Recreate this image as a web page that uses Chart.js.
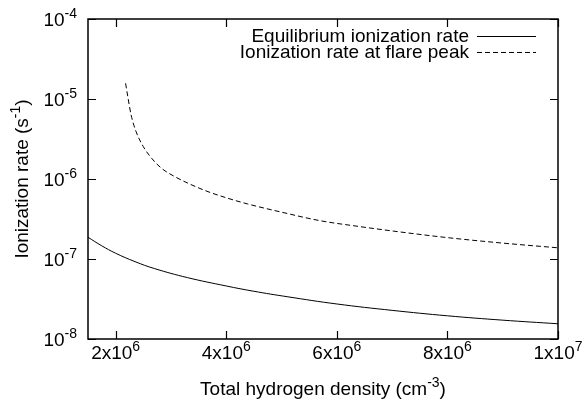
<!DOCTYPE html>
<html>
<head>
<meta charset="utf-8">
<script src="https://cdn.jsdelivr.net/npm/chart.js@4"></script>
<style>
  html, body { margin: 0; padding: 0; background: #fff; }
  canvas { display: block; }
</style>
</head>
<body>
<canvas id="chart" width="584" height="401"></canvas>
<script>
// values
// total hydrogen density (cm^-3) vs ionization rate (s^-1)
const densityEquilibrium = [1.5e6, 1.75e6, 2e6, 2.35e6, 2.7e6, 3.3e6, 4e6, 4.5e6, 5.1e6, 6e6, 7e6, 8e6, 9e6, 1e7];
const rateEquilibrium = [1.87e-7, 1.46e-7, 1.18e-7, 9.27e-8, 7.6e-8, 5.85e-8, 4.6e-8, 3.95e-8, 3.38e-8, 2.74e-8, 2.28e-8, 1.95e-8, 1.72e-8, 1.55e-8];

const densityFlare = [2.18e6, 2.22e6, 2.28e6, 2.37e6, 2.5e6, 2.65e6, 2.83e6, 3.07e6, 3.31e6, 3.67e6, 4.03e6, 4.39e6, 5e6, 5.7e6, 6.4e6, 7.14e6, 8e6, 9e6, 1e7];
const rateFlare = [1.57e-5, 1.07e-5, 6.3e-6, 3.9e-6, 2.54e-6, 1.82e-6, 1.36e-6, 1.07e-6, 8.84e-7, 6.95e-7, 5.74e-7, 4.87e-7, 3.85e-7, 3.01e-7, 2.55e-7, 2.18e-7, 1.85e-7, 1.58e-7, 1.38e-7];

const seriesLabels = ['Equilibrium ionization rate', 'Ionization rate at flare peak'];

const xTicks = [2e6, 4e6, 6e6, 8e6, 1e7];
const xTickLabels = ['2x10^{6}', '4x10^{6}', '6x10^{6}', '8x10^{6}', '1x10^{7}'];
const yTicks = [1e-8, 1e-7, 1e-6, 1e-5, 1e-4];
const yTickLabels = ['10^{-8}', '10^{-7}', '10^{-6}', '10^{-5}', '10^{-4}'];

const xTitle = 'Total hydrogen density (cm^{-3})';
const yTitle = 'Ionization rate (s^{-1})';

const FONT = "'Liberation Sans', Arial, Helvetica, sans-serif";
const mainFont = '19px ' + FONT;
const supFont = '14px ' + FONT;

// split "abc^{de}f" into normal / superscript pieces
function parseRich(str) {
  const parts = [];
  const re = /\^\{([^}]*)\}/g;
  let last = 0, m;
  while ((m = re.exec(str)) !== null) {
    if (m.index > last) parts.push({ t: str.slice(last, m.index), sup: false });
    parts.push({ t: m[1], sup: true });
    last = re.lastIndex;
  }
  if (last < str.length) parts.push({ t: str.slice(last), sup: false });
  return parts;
}

function richWidth(ctx, parts) {
  let w = 0;
  parts.forEach(p => {
    ctx.font = p.sup ? supFont : mainFont;
    w += ctx.measureText(p.t).width;
  });
  return w;
}

// y is the baseline of the normal text
function drawRich(ctx, str, x, y, align) {
  const parts = parseRich(str);
  const w = richWidth(ctx, parts);
  let cx = x;
  if (align === 'center') cx = x - w / 2;
  else if (align === 'right') cx = x - w;
  ctx.textAlign = 'left';
  ctx.textBaseline = 'alphabetic';
  parts.forEach(p => {
    ctx.font = p.sup ? supFont : mainFont;
    ctx.fillText(p.t, cx, p.sup ? y - 8 : y);
    cx += ctx.measureText(p.t).width;
  });
}

// gnuplot style frame: border, inward ticks on all sides, labels, key
const framePlugin = {
  id: 'frame',
  afterDraw(chart) {
    const ctx = chart.ctx;
    const a = chart.chartArea;
    const xs = chart.scales.x;
    const ys = chart.scales.y;
    const tick = 8;

    ctx.save();
    ctx.strokeStyle = '#000';
    ctx.fillStyle = '#000';
    ctx.lineWidth = 1.2;

    ctx.beginPath();
    xTicks.forEach(v => {
      const px = Math.round(xs.getPixelForValue(v)) + 0.5;
      ctx.moveTo(px, a.bottom); ctx.lineTo(px, a.bottom - tick);
      ctx.moveTo(px, a.top); ctx.lineTo(px, a.top + tick);
    });
    yTicks.forEach(v => {
      const py = Math.round(ys.getPixelForValue(v)) + 0.5;
      ctx.moveTo(a.left, py); ctx.lineTo(a.left + tick, py);
      ctx.moveTo(a.right, py); ctx.lineTo(a.right - tick, py);
    });
    ctx.stroke();

    ctx.lineWidth = 1.5;
    ctx.strokeRect(a.left, a.top, a.right - a.left, a.bottom - a.top);

    // tick labels
    xTicks.forEach((v, i) => {
      drawRich(ctx, xTickLabels[i], xs.getPixelForValue(v), a.bottom + 20, 'center');
    });
    yTicks.forEach((v, i) => {
      drawRich(ctx, yTickLabels[i], a.left - 11, ys.getPixelForValue(v) + 7, 'right');
    });

    // axis titles
    drawRich(ctx, xTitle, (a.left + a.right) / 2, 395, 'center');
    ctx.save();
    ctx.translate(28, (a.top + a.bottom) / 2);
    ctx.rotate(-Math.PI / 2);
    drawRich(ctx, yTitle, 0, 0, 'center');
    ctx.restore();

    // key, top right
    chart.data.datasets.forEach((ds, i) => {
      const ly = 36 + i * 15.5;
      drawRich(ctx, ds.label, 469, ly + 6, 'right');
      ctx.beginPath();
      ctx.lineWidth = 1;
      ctx.setLineDash(ds.borderDash || []);
      ctx.moveTo(477, Math.round(ly) + 0.5);
      ctx.lineTo(536, Math.round(ly) + 0.5);
      ctx.stroke();
      ctx.setLineDash([]);
    });

    ctx.restore();
  }
};

const canvas = document.getElementById('chart');
new Chart(canvas.getContext('2d'), {
  type: 'line',
  data: {
    datasets: [
      {
        label: seriesLabels[0],
        data: densityEquilibrium.map((x, i) => ({ x: x, y: rateEquilibrium[i] })),
        borderColor: '#000',
        borderWidth: 1,
        pointRadius: 0,
        tension: 0.4
      },
      {
        label: seriesLabels[1],
        data: densityFlare.map((x, i) => ({ x: x, y: rateFlare[i] })),
        borderColor: '#000',
        borderWidth: 1,
        borderDash: [5, 3],
        pointRadius: 0,
        cubicInterpolationMode: 'monotone'
      }
    ]
  },
  options: {
    responsive: false,
    animation: false,
    layout: { padding: { left: 88, right: 26, top: 19, bottom: 62 } },
    plugins: {
      legend: { display: false },
      tooltip: { enabled: false }
    },
    scales: {
      x: {
        type: 'linear',
        min: 1.5e6,
        max: 1e7,
        afterBuildTicks: s => { s.ticks = xTicks.map(v => ({ value: v })); },
        ticks: { display: false },
        grid: { display: false, drawTicks: false },
        border: { display: false }
      },
      y: {
        type: 'logarithmic',
        min: 1e-8,
        max: 1e-4,
        afterBuildTicks: s => { s.ticks = yTicks.map(v => ({ value: v })); },
        ticks: { display: false },
        grid: { display: false, drawTicks: false },
        border: { display: false }
      }
    }
  },
  plugins: [framePlugin]
});
</script>
</body>
</html>
